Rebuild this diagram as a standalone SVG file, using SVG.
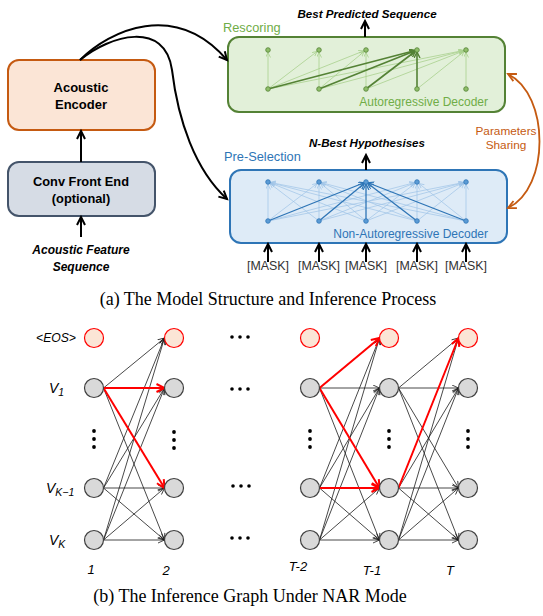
<svg xmlns="http://www.w3.org/2000/svg" width="543" height="616" viewBox="0 0 543 616">
<style>
.t{font-family:"Liberation Sans",Arial,sans-serif}
.b{font-weight:bold}
.i{font-style:italic}
.cap{font-family:"Liberation Serif","Times New Roman",serif;font-size:18px;fill:#000}
.box{stroke-width:2}
.blk{stroke:#000;stroke-width:2;fill:none}
.gl{stroke:#A9D18E;stroke-width:0.8;fill:none}
.gb{stroke:#548235;stroke-width:1.6;fill:none}
.bl{stroke:#9DC3E6;stroke-width:0.7;fill:none}
.bb{stroke:#2E75B6;stroke-width:1.3;fill:none}
.ge{stroke:#1a1a1a;stroke-width:0.8;fill:none}
.re{stroke:#FF0000;stroke-width:2;fill:none}
.gn{fill:#D9D9D9;stroke:#404040;stroke-width:1.2}
.rn{fill:#FBE5D6;stroke:#FF0000;stroke-width:1.2}
</style>
<defs>
<marker id="aK" markerUnits="userSpaceOnUse" markerWidth="12" markerHeight="12" refX="9" refY="5" orient="auto"><path d="M1,1 L9,5 L1,9" fill="none" stroke="#000" stroke-width="2"/></marker>
<marker id="aO" markerUnits="userSpaceOnUse" markerWidth="12" markerHeight="12" refX="9" refY="5" orient="auto-start-reverse"><path d="M1,1 L9,5 L1,9" fill="none" stroke="#C55A11" stroke-width="1.8"/></marker>
<marker id="aT" markerUnits="userSpaceOnUse" markerWidth="10" markerHeight="10" refX="7" refY="3.5" orient="auto"><path d="M0.5,0.5 L7,3.5 L0.5,6.5" fill="none" stroke="#1a1a1a" stroke-width="0.8"/></marker>
<marker id="aR" markerUnits="userSpaceOnUse" markerWidth="12" markerHeight="12" refX="9" refY="5" orient="auto"><path d="M1,1 L9,5 L1,9" fill="none" stroke="#FF0000" stroke-width="2"/></marker>
<marker id="aGL" markerUnits="userSpaceOnUse" markerWidth="10" markerHeight="10" refX="7.5" refY="2.5" orient="auto"><path d="M0,0 L5,2.5 L0,5" fill="none" stroke="#A9D18E" stroke-width="0.8"/></marker>
<marker id="aGB" markerUnits="userSpaceOnUse" markerWidth="10" markerHeight="10" refX="8" refY="3" orient="auto"><path d="M0,0 L6,3 L0,6" fill="none" stroke="#548235" stroke-width="1.4"/></marker>
<marker id="aBL" markerUnits="userSpaceOnUse" markerWidth="10" markerHeight="10" refX="7.5" refY="2.5" orient="auto"><path d="M0,0 L5,2.5 L0,5" fill="none" stroke="#9DC3E6" stroke-width="0.7"/></marker>
<marker id="aBB" markerUnits="userSpaceOnUse" markerWidth="10" markerHeight="10" refX="8" refY="3" orient="auto"><path d="M0,0 L6,3 L0,6" fill="none" stroke="#2E75B6" stroke-width="1.2"/></marker>
</defs>

<!-- Part (a) nodes -->
<g id="encoder">
<rect class="box" x="8" y="60" width="147" height="70" rx="11" fill="#FBE5D6" stroke="#C55A11"/>
<text class="t b" x="81" y="92" font-size="13" text-anchor="middle">Acoustic</text>
<text class="t b" x="81" y="109" font-size="13" text-anchor="middle">Encoder</text>
</g>
<g id="frontend">
<rect class="box" x="8" y="162" width="147" height="54" rx="11" fill="#D6DCE5" stroke="#44546A"/>
<text class="t b" x="81" y="186" font-size="12.8" text-anchor="middle">Conv Front End</text>
<text class="t b" x="81" y="203" font-size="12.8" text-anchor="middle">(optional)</text>
</g>
<g id="input">
<text class="t b i" x="81" y="254" font-size="12" text-anchor="middle">Acoustic Feature</text>
<text class="t b i" x="81" y="271" font-size="12" text-anchor="middle">Sequence</text>
</g>

<g id="ar-decoder">
<rect class="box" x="228" y="37" width="277" height="75" rx="11" fill="#E2F0D9" stroke="#548235"/>
<text class="t" x="223" y="32" font-size="12.8" fill="#70AD47">Rescoring</text>
<text class="t" x="488" y="106" font-size="12" fill="#70AD47" text-anchor="end">Autoregressive Decoder</text>
<g>
<line class="gl" x1="268" y1="89" x2="268" y2="50" marker-end="url(#aGL)"/>
<line class="gl" x1="268" y1="89" x2="319" y2="50" marker-end="url(#aGL)"/>
<line class="gl" x1="268" y1="89" x2="366" y2="50" marker-end="url(#aGL)"/>
<line class="gl" x1="268" y1="89" x2="466" y2="50" marker-end="url(#aGL)"/>
<line class="gl" x1="319" y1="89" x2="319" y2="50" marker-end="url(#aGL)"/>
<line class="gl" x1="319" y1="89" x2="366" y2="50" marker-end="url(#aGL)"/>
<line class="gl" x1="319" y1="89" x2="466" y2="50" marker-end="url(#aGL)"/>
<line class="gl" x1="366" y1="89" x2="366" y2="50" marker-end="url(#aGL)"/>
<line class="gl" x1="366" y1="89" x2="466" y2="50" marker-end="url(#aGL)"/>
<line class="gl" x1="417" y1="89" x2="466" y2="50" marker-end="url(#aGL)"/>
<line class="gl" x1="466" y1="89" x2="466" y2="50" marker-end="url(#aGL)"/>
<line class="gb" x1="268" y1="89" x2="417" y2="50" marker-end="url(#aGB)"/>
<line class="gb" x1="319" y1="89" x2="417" y2="50" marker-end="url(#aGB)"/>
<line class="gb" x1="366" y1="89" x2="417" y2="50" marker-end="url(#aGB)"/>
<line class="gb" x1="417" y1="89" x2="417" y2="50" marker-end="url(#aGB)"/>
</g>
<g fill="#8FBF6A" stroke="#548235" stroke-width="0.8">
<circle cx="268" cy="50" r="2.3"/><circle cx="319" cy="50" r="2.3"/><circle cx="366" cy="50" r="2.3"/><circle cx="417" cy="50" r="2.3"/><circle cx="466" cy="50" r="2.3"/>
<circle cx="268" cy="89" r="2.3"/><circle cx="319" cy="89" r="2.3"/><circle cx="366" cy="89" r="2.3"/><circle cx="417" cy="89" r="2.3"/><circle cx="466" cy="89" r="2.3"/>
</g>
</g>

<g id="nar-decoder">
<rect class="box" x="230" y="170" width="277" height="73" rx="11" fill="#DEEBF7" stroke="#2E75B6"/>
<text class="t" x="224" y="161" font-size="12.8" fill="#2E75B6">Pre-Selection</text>
<text class="t" x="488" y="238" font-size="12" fill="#2E75B6" text-anchor="end">Non-Autoregressive Decoder</text>
<g>
<line class="bl" x1="268" y1="221" x2="268" y2="182" marker-end="url(#aBL)"/>
<line class="bl" x1="268" y1="221" x2="319" y2="182" marker-end="url(#aBL)"/>
<line class="bl" x1="268" y1="221" x2="417" y2="182" marker-end="url(#aBL)"/>
<line class="bl" x1="268" y1="221" x2="466" y2="182" marker-end="url(#aBL)"/>
<line class="bl" x1="319" y1="221" x2="268" y2="182" marker-end="url(#aBL)"/>
<line class="bl" x1="319" y1="221" x2="319" y2="182" marker-end="url(#aBL)"/>
<line class="bl" x1="319" y1="221" x2="417" y2="182" marker-end="url(#aBL)"/>
<line class="bl" x1="319" y1="221" x2="466" y2="182" marker-end="url(#aBL)"/>
<line class="bl" x1="366" y1="221" x2="268" y2="182" marker-end="url(#aBL)"/>
<line class="bl" x1="366" y1="221" x2="319" y2="182" marker-end="url(#aBL)"/>
<line class="bl" x1="366" y1="221" x2="417" y2="182" marker-end="url(#aBL)"/>
<line class="bl" x1="366" y1="221" x2="466" y2="182" marker-end="url(#aBL)"/>
<line class="bl" x1="417" y1="221" x2="268" y2="182" marker-end="url(#aBL)"/>
<line class="bl" x1="417" y1="221" x2="319" y2="182" marker-end="url(#aBL)"/>
<line class="bl" x1="417" y1="221" x2="417" y2="182" marker-end="url(#aBL)"/>
<line class="bl" x1="417" y1="221" x2="466" y2="182" marker-end="url(#aBL)"/>
<line class="bl" x1="466" y1="221" x2="268" y2="182" marker-end="url(#aBL)"/>
<line class="bl" x1="466" y1="221" x2="319" y2="182" marker-end="url(#aBL)"/>
<line class="bl" x1="466" y1="221" x2="417" y2="182" marker-end="url(#aBL)"/>
<line class="bl" x1="466" y1="221" x2="466" y2="182" marker-end="url(#aBL)"/>
<line class="bb" x1="268" y1="221" x2="366" y2="182" marker-end="url(#aBB)"/>
<line class="bb" x1="319" y1="221" x2="366" y2="182" marker-end="url(#aBB)"/>
<line class="bb" x1="366" y1="221" x2="366" y2="182" marker-end="url(#aBB)"/>
<line class="bb" x1="417" y1="221" x2="366" y2="182" marker-end="url(#aBB)"/>
<line class="bb" x1="466" y1="221" x2="366" y2="182" marker-end="url(#aBB)"/>
</g>
<g fill="#5B9BD5" stroke="#2E75B6" stroke-width="0.8">
<circle cx="268" cy="182" r="2.3"/><circle cx="319" cy="182" r="2.3"/><circle cx="366" cy="182" r="2.3"/><circle cx="417" cy="182" r="2.3"/><circle cx="466" cy="182" r="2.3"/>
<circle cx="268" cy="221" r="2.3"/><circle cx="319" cy="221" r="2.3"/><circle cx="366" cy="221" r="2.3"/><circle cx="417" cy="221" r="2.3"/><circle cx="466" cy="221" r="2.3"/>
</g>
</g>

<g id="labels-a">
<text class="t b i" x="367" y="18" font-size="11.6" text-anchor="middle">Best Predicted Sequence</text>
<text class="t b i" x="367" y="147" font-size="11.6" text-anchor="middle">N-Best Hypothesises</text>
<text class="t" x="506" y="135" font-size="11.8" fill="#C55A11" text-anchor="middle">Parameters</text>
<text class="t" x="506" y="149" font-size="11.8" fill="#C55A11" text-anchor="middle">Sharing</text>
<g class="t" font-size="12.4" fill="#333" text-anchor="middle">
<text x="268" y="270">[MASK]</text><text x="319" y="270">[MASK]</text><text x="366" y="270">[MASK]</text><text x="417" y="270">[MASK]</text><text x="466" y="270">[MASK]</text>
</g>
</g>

<g id="connectors-a">
<line class="blk" x1="81" y1="162" x2="81" y2="131" marker-end="url(#aK)"/>
<line class="blk" x1="81" y1="237" x2="81" y2="217" marker-end="url(#aK)"/>
<line class="blk" x1="365" y1="37" x2="365" y2="21" marker-end="url(#aK)"/>
<line class="blk" x1="366" y1="170" x2="366" y2="155" marker-end="url(#aK)"/>
<line class="blk" x1="268" y1="262" x2="268" y2="244" marker-end="url(#aK)"/>
<line class="blk" x1="319" y1="262" x2="319" y2="244" marker-end="url(#aK)"/>
<line class="blk" x1="366" y1="262" x2="366" y2="244" marker-end="url(#aK)"/>
<line class="blk" x1="417" y1="262" x2="417" y2="244" marker-end="url(#aK)"/>
<line class="blk" x1="466" y1="262" x2="466" y2="244" marker-end="url(#aK)"/>
<path class="blk" d="M80,60 C110,30 175,0 227,60" marker-end="url(#aK)"/>
<path class="blk" d="M80,60 C110,35 165,20 172,70 C178,120 195,170 227,199" marker-end="url(#aK)"/>
<path d="M508,74 C550,95 550,188 508,208" fill="none" stroke="#C55A11" stroke-width="1.8" marker-start="url(#aO)" marker-end="url(#aO)"/>
</g>

<text class="cap" x="268" y="305" text-anchor="middle" font-size="18.6">(a) The Model Structure and Inference Process</text>

<!-- Part (b) -->
<g id="connectors-b">
<g class="ge" marker-end="url(#aT)">
<line x1="103.5" y1="388" x2="164.5" y2="338"/>
<line x1="103.5" y1="388" x2="164.5" y2="540"/>
<line x1="103.5" y1="488" x2="164.5" y2="338"/>
<line x1="103.5" y1="488" x2="164.5" y2="388"/>
<line x1="103.5" y1="488" x2="164.5" y2="488"/>
<line x1="103.5" y1="488" x2="164.5" y2="540"/>
<line x1="103.5" y1="540" x2="164.5" y2="338"/>
<line x1="103.5" y1="540" x2="164.5" y2="388"/>
<line x1="103.5" y1="540" x2="164.5" y2="488"/>
<line x1="103.5" y1="540" x2="164.5" y2="540"/>

<line x1="319.5" y1="388" x2="379.5" y2="388"/>
<line x1="319.5" y1="388" x2="379.5" y2="540"/>
<line x1="319.5" y1="488" x2="379.5" y2="338"/>
<line x1="319.5" y1="488" x2="379.5" y2="388"/>
<line x1="319.5" y1="488" x2="379.5" y2="540"/>
<line x1="319.5" y1="540" x2="379.5" y2="338"/>
<line x1="319.5" y1="540" x2="379.5" y2="388"/>
<line x1="319.5" y1="540" x2="379.5" y2="488"/>
<line x1="319.5" y1="540" x2="379.5" y2="540"/>

<line x1="398.5" y1="388" x2="458.5" y2="338"/>
<line x1="398.5" y1="388" x2="458.5" y2="388"/>
<line x1="398.5" y1="388" x2="458.5" y2="488"/>
<line x1="398.5" y1="388" x2="458.5" y2="540"/>
<line x1="398.5" y1="488" x2="458.5" y2="388"/>
<line x1="398.5" y1="488" x2="458.5" y2="488"/>
<line x1="398.5" y1="488" x2="458.5" y2="540"/>
<line x1="398.5" y1="540" x2="458.5" y2="338"/>
<line x1="398.5" y1="540" x2="458.5" y2="388"/>
<line x1="398.5" y1="540" x2="458.5" y2="488"/>
<line x1="398.5" y1="540" x2="458.5" y2="540"/>
</g>
<g class="re" marker-end="url(#aR)">
<line x1="103.5" y1="388" x2="164.5" y2="388"/>
<line x1="103.5" y1="388" x2="164.5" y2="488"/>
<line x1="319.5" y1="388" x2="379.5" y2="338"/>
<line x1="319.5" y1="388" x2="379.5" y2="488"/>
<line x1="319.5" y1="488" x2="379.5" y2="488"/>
<line x1="398.5" y1="488" x2="458.5" y2="338"/>
</g>
</g>

<g id="col-1">
<circle class="rn" cx="94" cy="338" r="9.5"/>
<circle class="gn" cx="94" cy="388" r="9.5"/>
<circle class="gn" cx="94" cy="488" r="9.5"/>
<circle class="gn" cx="94" cy="540" r="9.5"/>
</g>
<g id="col-2">
<circle class="rn" cx="174" cy="338" r="9.5"/>
<circle class="gn" cx="174" cy="388" r="9.5"/>
<circle class="gn" cx="174" cy="488" r="9.5"/>
<circle class="gn" cx="174" cy="540" r="9.5"/>
</g>
<g id="col-T-2">
<circle class="rn" cx="310" cy="338" r="9.5"/>
<circle class="gn" cx="310" cy="388" r="9.5"/>
<circle class="gn" cx="310" cy="488" r="9.5"/>
<circle class="gn" cx="310" cy="540" r="9.5"/>
</g>
<g id="col-T-1">
<circle class="rn" cx="389" cy="338" r="9.5"/>
<circle class="gn" cx="389" cy="388" r="9.5"/>
<circle class="gn" cx="389" cy="488" r="9.5"/>
<circle class="gn" cx="389" cy="540" r="9.5"/>
</g>
<g id="col-T">
<circle class="rn" cx="468" cy="338" r="9.5"/>
<circle class="gn" cx="468" cy="388" r="9.5"/>
<circle class="gn" cx="468" cy="488" r="9.5"/>
<circle class="gn" cx="468" cy="540" r="9.5"/>
</g>

<g id="ellipses" fill="#000">
<circle cx="94" cy="431" r="1.9"/><circle cx="94" cy="439" r="1.9"/><circle cx="94" cy="447" r="1.9"/>
<circle cx="174" cy="432" r="1.9"/><circle cx="174" cy="440" r="1.9"/><circle cx="174" cy="448" r="1.9"/>
<circle cx="310" cy="431" r="1.9"/><circle cx="310" cy="439" r="1.9"/><circle cx="310" cy="447" r="1.9"/>
<circle cx="389" cy="431" r="1.9"/><circle cx="389" cy="439" r="1.9"/><circle cx="389" cy="447" r="1.9"/>
<circle cx="468" cy="431" r="1.9"/><circle cx="468" cy="439" r="1.9"/><circle cx="468" cy="447" r="1.9"/>
<circle cx="232" cy="337" r="1.8"/><circle cx="240" cy="337" r="1.8"/><circle cx="248" cy="337" r="1.8"/>
<circle cx="232" cy="389" r="1.8"/><circle cx="240" cy="389" r="1.8"/><circle cx="248" cy="389" r="1.8"/>
<circle cx="233" cy="486" r="1.8"/><circle cx="241" cy="486" r="1.8"/><circle cx="249" cy="486" r="1.8"/>
<circle cx="232" cy="538" r="1.8"/><circle cx="240" cy="538" r="1.8"/><circle cx="248" cy="538" r="1.8"/>
</g>

<g id="labels-b" class="t i" fill="#000">
<text x="76" y="342" font-size="12.2" text-anchor="end">&lt;EOS&gt;</text>
<text x="49" y="393" font-size="14">V<tspan font-size="10.5" dy="3">1</tspan></text>
<text x="46" y="493" font-size="14">V<tspan font-size="10.5" dy="3">K−1</tspan></text>
<text x="49" y="545" font-size="14">V<tspan font-size="10.5" dy="3">K</tspan></text>
<text x="91" y="574" font-size="13" text-anchor="middle">1</text>
<text x="166" y="575" font-size="13" text-anchor="middle">2</text>
<text x="298" y="571" font-size="13" text-anchor="middle">T-2</text>
<text x="372" y="575" font-size="13" text-anchor="middle">T-1</text>
<text x="450" y="575" font-size="13" text-anchor="middle">T</text>
</g>

<text class="cap" x="250" y="602" text-anchor="middle">(b) The Inference Graph Under NAR Mode</text>
</svg>
